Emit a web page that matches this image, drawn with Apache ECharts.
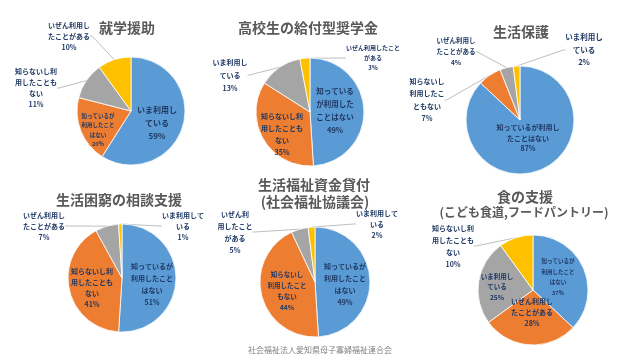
<!DOCTYPE html>
<html><head><meta charset="utf-8">
<script src="https://cdn.jsdelivr.net/npm/echarts@6/dist/echarts.min.js"></script>
<style>html,body{margin:0;padding:0;background:#fff}#c{width:640px;height:360px}</style>
</head><body><div id="c"></div>
<script>
// ---- data ----
const titles1 = ['就学援助'];
const titles2 = ['高校生の給付型奨学金'];
const titles3 = ['生活保護'];
const titles4 = ['生活困窮の相談支援'];
const titles5 = ['生活福祉資金貸付', '(社会福祉協議会)'];
const titles6 = ['食の支援', '(こども食道,フードパントリー)'];
const footerText = '社会福祉法人愛知県母子寡婦福祉連合会';

const cat1 = ['いま利用し\nている', '知っているが\n利用したこと\nはない', '知らないし利\n用したことも\nない', 'いぜん利用し\nたことがある'];
const val1 = [59, 20, 11, 10];
const cat2 = ['知っている\nが利用した\nことはない', '知らないし利\n用したことも\nない', 'いま利用し\nている', 'いぜん利用したこと\nがある'];
const val2 = [49, 35, 13, 3];
const cat3 = ['知っているが利用し\nたことはない', '知らないし\n利用したこ\nともない', 'いぜん利用し\nたことがある', 'いま利用し\nている'];
const val3 = [87, 7, 4, 2];
const cat4 = ['知っているが\n利用したこと\nはない', '知らないし利\n用したことも\nない', 'いぜん利用し\nたことがある', 'いま利用して\nいる'];
const val4 = [51, 41, 7, 1];
const cat5 = ['知っているが\n利用したこと\nはない', '知らないし\n利用したこと\nもない', 'いぜん利\n用したこと\nがある', 'いま利用して\nいる'];
const val5 = [49, 44, 5, 2];
const cat6 = ['知っているが\n利用したこと\nはない', 'いぜん利用し\nたことがある', 'いま利用し\nている', '知らないし利\n用したことも\nない'];
const val6 = [37, 28, 25, 10];

// ---- styles ----
const colors = ['#5b9bd5', '#ed7d31', '#a5a5a5', '#ffc000'];
const FONT = '"Noto Sans CJK JP", "Noto Sans", sans-serif';
const charts = [
  {titles: titles1, tpos: [[127, 28]], cats: cat1, vals: val1, center: [131, 111], r: 54,
   pos: ['inside', 'inside', 'outside', 'outside'], off: [[26, 12], [-33, 19], [-95, -23], [-62, -75]],
   fs: [8, 5.5, 7, 7], lh: [13, 9.5, 11, 11]},
  {titles: titles2, tpos: [[308, 28]], cats: cat2, vals: val2, center: [310, 112], r: 54,
   pos: ['inside', 'inside', 'outside', 'outside'], off: [[25, -1], [-28, 22], [-80, -37], [63, -54]],
   fs: [7.5, 7, 7, 6], lh: [13, 12, 13, 10]},
  {titles: titles3, tpos: [[521, 32]], cats: cat3, vals: val3, center: [520, 120], r: 54,
   pos: ['inside', 'outside', 'outside', 'outside'], off: [[8, 18], [-93, -20], [-64, -68], [64, -70]],
   fs: [7, 7, 6.5, 7.5], lh: [10.5, 12.5, 11, 12.5]},
  {titles: titles4, tpos: [[119, 200]], cats: cat4, vals: val4, center: [122, 278], r: 54,
   pos: ['inside', 'inside', 'outside', 'outside'], off: [[30, 6], [-30, 10], [-78, -52], [61, -52]],
   fs: [7, 7, 7, 7], lh: [12, 11, 11, 11]},
  {titles: titles5, tpos: [[314, 185], [315, 202]], cats: cat5, vals: val5, center: [315, 282], r: 55,
   pos: ['inside', 'inside', 'outside', 'outside'], off: [[30, 2], [-28, 9], [-80, -50], [62, -58]],
   fs: [7, 6.5, 7, 7], lh: [12, 11, 12, 11]},
  {titles: titles6, tpos: [[525, 197], [524, 212]], cats: cat6, vals: val6, center: [533, 290], r: 55,
   pos: ['inside', 'inside', 'inside', 'outside'], off: [[25, -13], [-1, 22], [-36, -3], [-80, -44]],
   fs: [5.5, 7, 6.5, 7], lh: [10.5, 11, 10.5, 12]}
];

const series = charts.map(C => ({
  type: 'pie',
  center: C.center,
  radius: C.r,
  startAngle: 90,
  clockwise: true,
  avoidLabelOverlap: false,
  silent: true,
  emphasis: {disabled: true},
  itemStyle: {borderColor: '#ffffff', borderWidth: 0.8},
  label: {formatter: '{b}\n{c}%', color: '#1f3864', fontWeight: 'bold', fontFamily: FONT},
  labelLine: {lineStyle: {color: '#bfbfbf', width: 1}, length: 5, length2: 2},
  labelLayout: p => {
    const o = C.off[p.dataIndex];
    return {x: C.center[0] + o[0], y: C.center[1] + o[1], align: 'center', verticalAlign: 'middle'};
  },
  data: C.cats.map((n, j) => ({
    name: n, value: C.vals[j],
    itemStyle: {color: colors[j]},
    label: {position: C.pos[j], fontSize: C.fs[j], lineHeight: C.lh[j]},
    labelLine: {show: C.pos[j] === 'outside'}
  }))
}));

const graphics = [];
charts.forEach((C, i) => {
  C.titles.forEach((t, k) => {
    const small = (i === 5 && k === 1);
    graphics.push({
      type: 'text', x: C.tpos[k][0], y: C.tpos[k][1], silent: true,
      style: {text: t, fill: '#595959', align: 'center', verticalAlign: 'middle',
        font: 'bold ' + (small ? 12 : 14) + 'px ' + FONT}
    });
  });
});
graphics.push({type: 'text', x: 320, y: 350, silent: true,
  style: {text: footerText, fill: '#808080', align: 'center', verticalAlign: 'middle', font: '8px ' + FONT}});

const chart = echarts.init(document.getElementById('c'), null, {renderer: 'canvas'});
chart.setOption({
  backgroundColor: '#ffffff',
  animation: false,
  series: series,
  graphic: graphics
});
</script></body></html>
